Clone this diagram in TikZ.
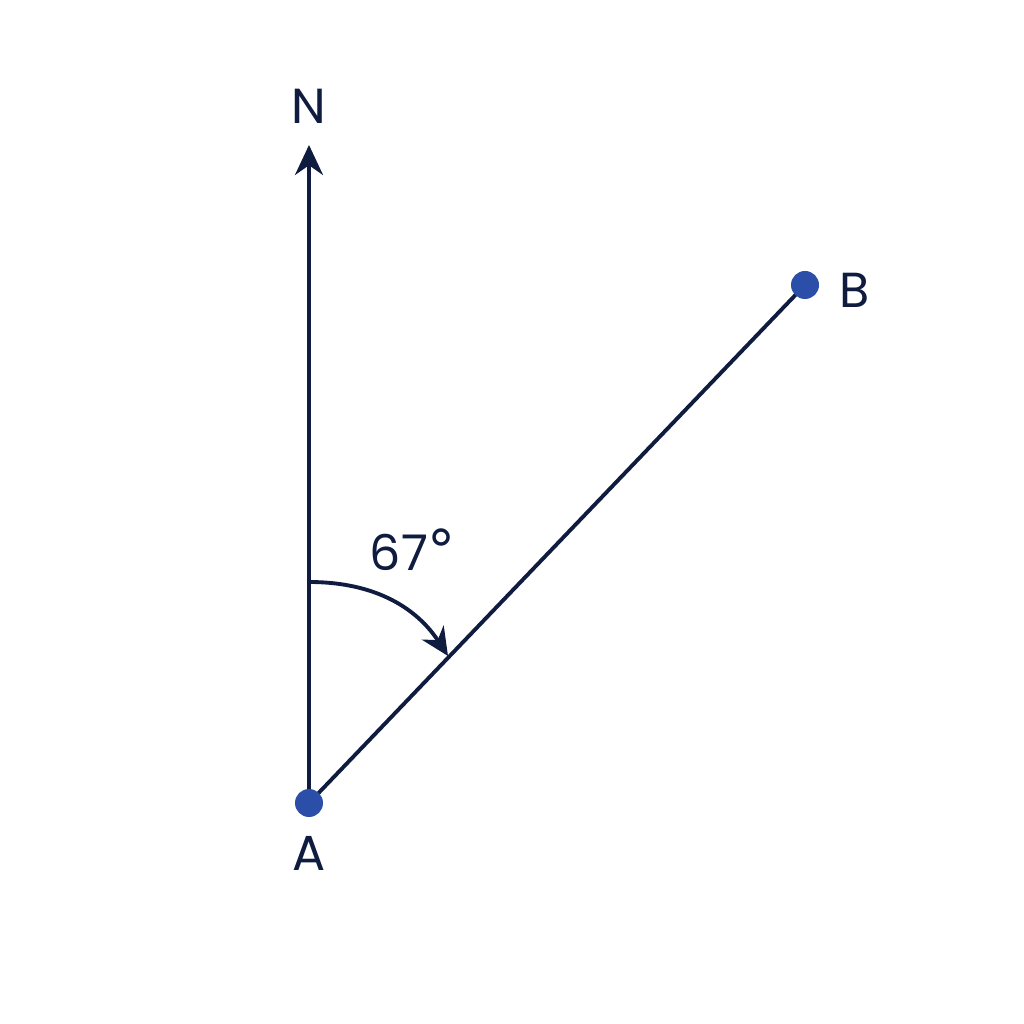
\documentclass[tikz,border=0pt]{standalone}
\usepackage{fontspec}
\setmainfont{Poppins}
\newfontfamily\degfont{DejaVu Sans}
\usetikzlibrary{arrows.meta}
\definecolor{navy}{HTML}{0F1C3F}
\definecolor{dotblue}{HTML}{2B4FA8}
\tikzset{
  ln/.style={draw=navy, line width=1.1pt},
  pt/.style={circle, fill=dotblue, inner sep=0pt, minimum size=2.8mm},
  lbl/.style={text=navy, font=\fontsize{14}{16}\selectfont, inner sep=0pt},
}
\begin{document}
\begin{tikzpicture}
\useasboundingbox[fill=white] (0,0) rectangle (10.24,10.24);
\coordinate (Ntip) at (3.09,8.79);
\node[lbl] (Nl) at (3.09,9.18) {N};
\coordinate (arcS) at (3.09,4.42);
\coordinate (arcE) at (4.48,3.68);
\draw[ln, -{Stealth[length=3mm,width=2.8mm]}] (3.09,2.21) coordinate (Ac) -- (Ntip);
\draw[ln] (Ac) -- (8.05,7.39) coordinate (Bc);
\draw[ln, -{Stealth[length=2.8mm,width=2.6mm]}] (arcS) .. controls (3.85,4.42) and (4.22,4.08) .. (arcE);
\node[pt] (A) at (Ac) {};
\node[pt] (B) at (Bc) {};
\node[lbl] (Al) at (3.09,1.71) {A};
\node[lbl] (Bl) at (8.55,7.34) {B};
\node[lbl] (ang) at (4.13,4.74) {67{\degfont\fontsize{16}{16}\selectfont °}};
\end{tikzpicture}
\end{document}
